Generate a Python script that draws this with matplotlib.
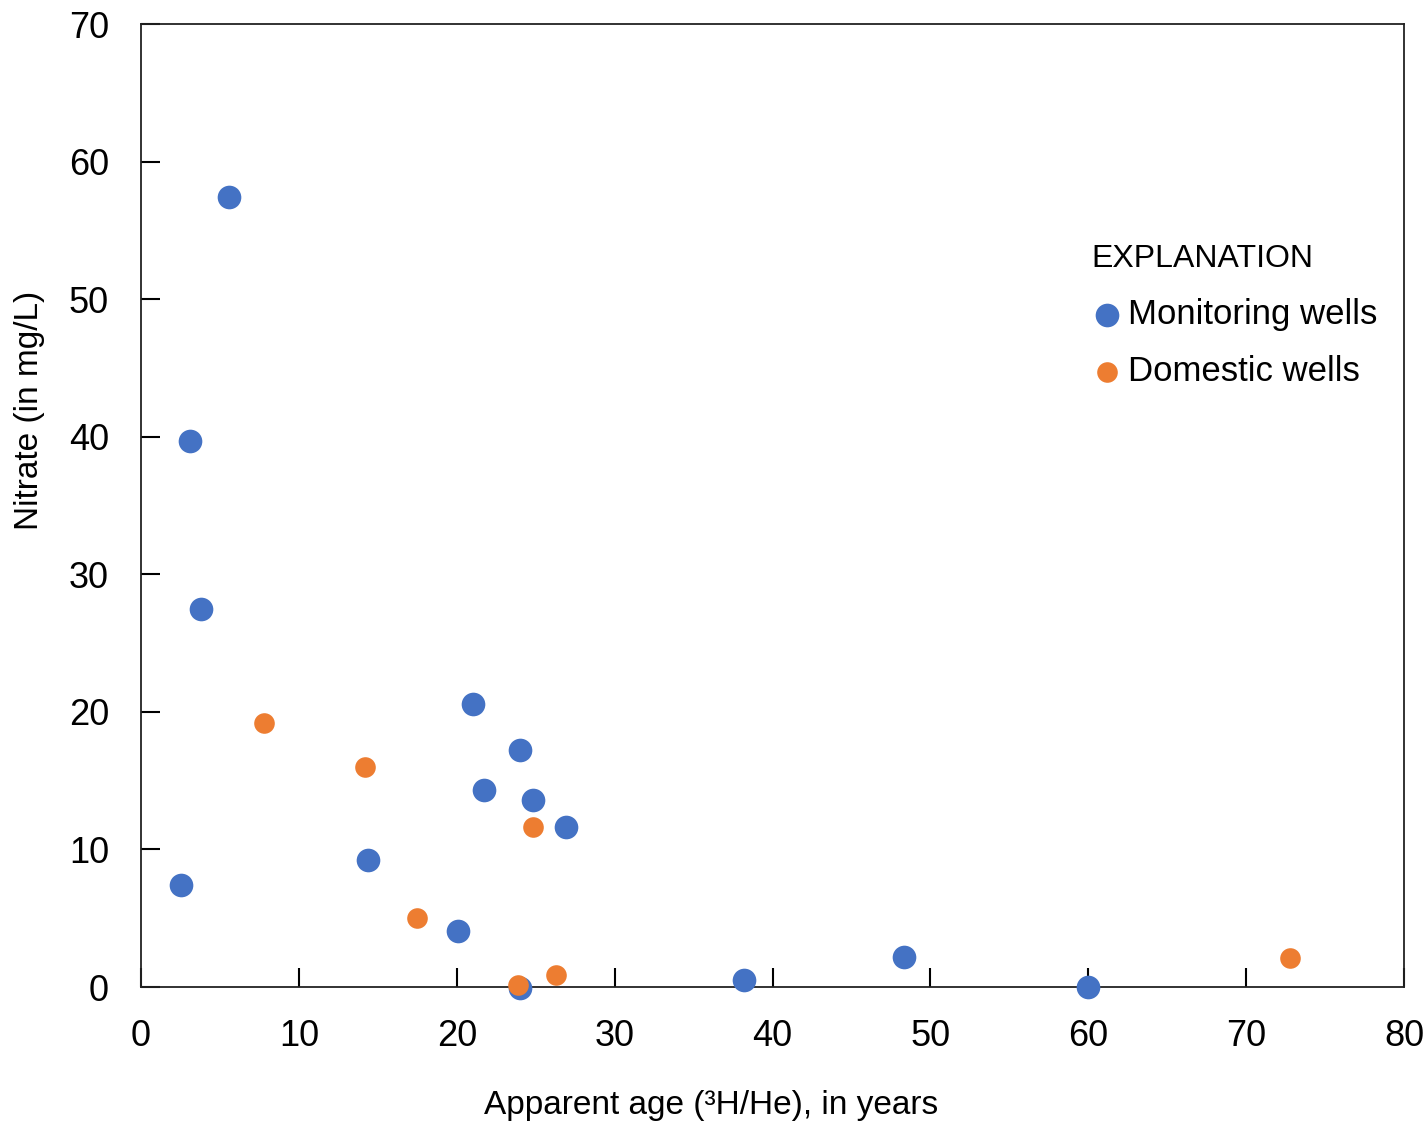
import matplotlib.pyplot as plt

# Monitoring wells
mon_age = [5.6, 3.1, 3.8, 2.5, 21.0, 24.0, 21.7, 24.8, 26.9, 14.4, 20.1, 24.0, 38.2, 48.3, 60.0]
mon_no3 = [57.4, 39.7, 27.5, 7.4, 20.6, 17.2, 14.3, 13.6, 11.6, 9.2, 4.1, -0.1, 0.5, 2.2, 0.0]

# Domestic wells
dom_age = [7.8, 14.2, 24.8, 17.5, 23.9, 26.3, 72.8]
dom_no3 = [19.2, 16.0, 11.6, 5.0, 0.15, 0.9, 2.1]

plt.rcParams["font.family"] = ["Liberation Sans", "DejaVu Sans"]

fig = plt.figure(figsize=(14.26, 11.27), dpi=100)
ax = fig.add_axes([0.0989, 0.1242, 0.8857, 0.8545])

ax.scatter(mon_age, mon_no3, s=290, color="#4472C4", linewidths=0, zorder=3,
           label="Monitoring wells", clip_on=False)
ax.scatter(dom_age, dom_no3, s=220, color="#ED7D31", linewidths=0, zorder=4,
           label="Domestic wells", clip_on=False)

ax.set_xlim(0, 80)
ax.set_ylim(0, 70)
ax.set_xticks(range(0, 81, 10))
ax.set_yticks(range(0, 71, 10))
ax.tick_params(direction="in", length=14, width=1.5, labelsize=26, pad=23)
for sp in ax.spines.values():
    sp.set_linewidth(1.3)
    sp.set_color("#222222")

# labels sit off-centre in the original
ax.set_xlabel("Apparent age (³H/He), in years", fontsize=24)
ax.set_ylabel("Nitrate (in mg/L)", fontsize=24)
ax.xaxis.set_label_coords(0.451, -0.107)
ax.yaxis.set_label_coords(-0.076, 0.599)

leg = ax.legend(title="EXPLANATION", loc="upper left", bbox_to_anchor=(0.7385, 0.79),
                frameon=False, fontsize=25, title_fontsize=23, handletextpad=0.15,
                handlelength=0.9, labelspacing=0.7, borderpad=0, markerscale=1.0)
leg._legend_box.align = "left"

fig.savefig("out.png", dpi=100)
